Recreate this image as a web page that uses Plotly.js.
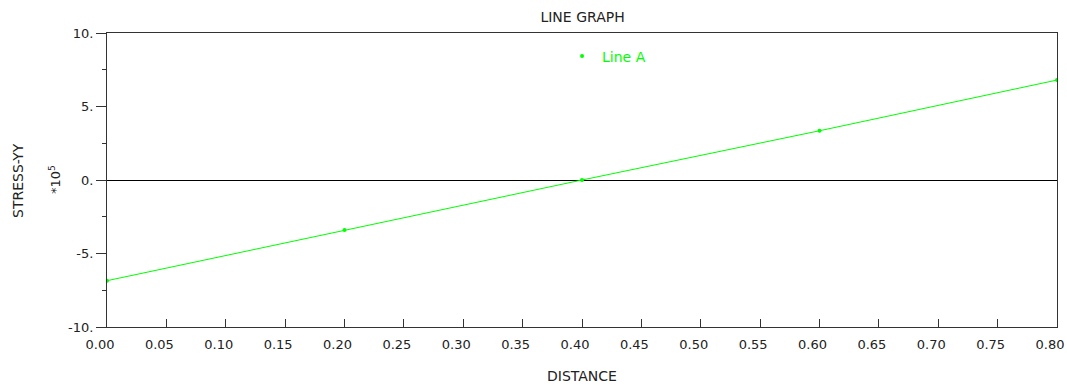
<!DOCTYPE html>
<html><head><meta charset="utf-8">
<script src="https://cdn.plot.ly/plotly-3.0.1.min.js"></script>
<style>body{margin:0}#c{width:1067px;height:385px}</style></head>
<body><div id="c"></div>
<script>
const distance = [0.0, 0.2, 0.4, 0.6, 0.8];
const stressA = [-6.85, -3.4, 0.0, 3.35, 6.8];
const xTickVals = [0, 0.05, 0.1, 0.15, 0.2, 0.25, 0.3, 0.35, 0.4, 0.45, 0.5, 0.55, 0.6, 0.65, 0.7, 0.75, 0.8];
const xTickText = ["0.00", "0.05", "0.10", "0.15", "0.20", "0.25", "0.30", "0.35", "0.40", "0.45", "0.50", "0.55", "0.60", "0.65", "0.70", "0.75", "0.80"];
const yTickVals = [-10, -5, 0, 5, 10];
const yTickText = ["-10.", "-5.", "0.", "5.", "10."];
const seriesName = "Line A";
const green = "#00ff00";
const font = {family: "DejaVu Sans, sans-serif", size: 14, color: "#222"};
const tickFont = {family: "DejaVu Sans, sans-serif", size: 13, color: "#222"};

const traces = [
  {x: distance, y: stressA, mode: "lines+markers", showlegend: false,
   line: {color: green, width: 1}, marker: {color: green, size: 4}},
  {x: [null], y: [null], mode: "markers", name: seriesName,
   marker: {color: green, size: 4}}
];
const layout = {
  width: 1067, height: 385,
  margin: {l: 107, r: 10, t: 33, b: 58},
  paper_bgcolor: "#fff", plot_bgcolor: "#fff",
  font: font,
  title: {text: "LINE GRAPH", x: 0.546, xanchor: "center", y: 0.955, yanchor: "middle", font: font},
  showlegend: true,
  legend: {x: 0.479, y: 0.92, xanchor: "left", yanchor: "middle", bgcolor: "rgba(0,0,0,0)",
           font: {family: font.family, size: 14, color: green}, itemwidth: 30},
  xaxis: {range: [0, 0.8], tickvals: xTickVals, ticktext: xTickText, ticklabeloverflow: "allow",
          ticklabelshift: -7, ticklabelstandoff: 5,
          showline: true, mirror: true, linecolor: "#333", linewidth: 1,
          ticks: "inside", ticklen: 8, tickcolor: "#333", showgrid: false, zeroline: false,
          tickfont: tickFont},
  yaxis: {range: [-10, 10], tickvals: yTickVals, ticktext: yTickText,
          showline: true, mirror: true, linecolor: "#333", linewidth: 1,
          ticks: "outside", ticklen: 10, tickcolor: "#333", showgrid: false,
          zeroline: true, zerolinecolor: "#000", zerolinewidth: 1,
          minor: {dtick: 2.5, ticks: "outside", ticklen: 4, tickcolor: "#333", showgrid: false},
          tickfont: tickFont},
  annotations: [
    {xref: "paper", yref: "paper", x: 0.5, y: -0.165, xanchor: "center", yanchor: "middle",
     text: "DISTANCE", showarrow: false, font: font},
    {xref: "paper", yref: "paper", x: -0.0937, y: 0.5, xanchor: "center", yanchor: "middle",
     text: "STRESS-YY", showarrow: false, textangle: -90, font: font},
    {xref: "paper", yref: "paper", x: -0.0547, y: 0.5, xanchor: "center", yanchor: "middle",
     text: "*10<sup>5</sup>", showarrow: false,
     textangle: -90, font: {family: font.family, size: 13, color: "#222"}}
  ]
};
Plotly.newPlot("c", traces, layout, {displayModeBar: false});
</script></body></html>
